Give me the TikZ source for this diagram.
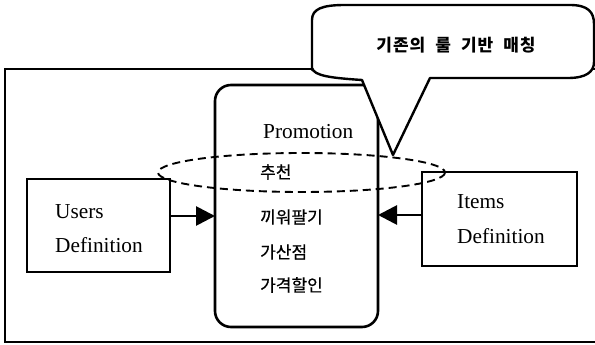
\documentclass[tikz,border=0pt]{standalone}
\usepackage{fontspec}
\setmainfont{Liberation Serif}
\newfontfamily\kr{Noto Sans CJK KR}
\newfontfamily\krb[FakeBold=0.6]{Noto Sans CJK KR}
\usetikzlibrary{arrows.meta}
\tikzset{
  lat/.style={anchor=base west,inner sep=0pt,font=\fontsize{21.3}{24}\selectfont},
  kor/.style={anchor=west,inner sep=0pt,font=\krb\fontsize{17}{19}\selectfont},
  defbox/.style={draw,line width=2.6pt},
  link/.style={line width=2.8pt,-{Triangle[length=19pt,width=19pt]}},
}
\begin{document}
\begin{tikzpicture}[x=1pt,y=-1pt]
\useasboundingbox (0,0) rectangle (595,345);
% outer frame (right side is cut off)
\draw[line width=2.2pt] (598,69) -- (5,69) -- (5,342) -- (598,342);
% promotion box
\draw[line width=2.6pt,rounded corners=16pt] (215,85) rectangle (378,327);
\coordinate (pl) at (215,216);
\coordinate (pr) at (378,215);
% users and items boxes
\draw[defbox] (27,179) rectangle (170,272);
\coordinate (ur) at (170,216);
\draw[defbox] (422,172) rectangle (577,266);
\coordinate (il) at (422,215);
\draw[link] (ur) -- (pl);
\draw[link] (il) -- (pr);
% texts
\node[lat] (prom) at (263,139) {Promotion};
\node[kor] (k1) at (260,172) {추천};
\node[kor] (k2) at (260,217) {끼워팔기};
\node[kor] (k3) at (260,252) {가산점};
\node[kor] (k4) at (260,285) {가격할인};
\node[lat] (u1) at (55,218) {Users};
\node[lat] (u2) at (55,252) {Definition};
\node[lat] (i1) at (457,208) {Items};
\node[lat] (i2) at (457,243) {Definition};
% callout
\draw[line width=2.4pt,fill=white,line join=round]
  (312,70) -- (312,20) .. controls (312,9) and (322,5) .. (345,5)
  -- (570,5) .. controls (588,5) and (594,12) .. (594,24)
  -- (594,62) .. controls (594,72) and (586,78) .. (568,78)
  -- (430,78) -- (393,155) -- (362,80)
  .. controls (332,78) and (314,76) .. (312,68) -- cycle;
\node[inner sep=0pt,font=\kr\bfseries\fontsize{17}{19}\selectfont] (call) at (456,45)
  {기\hspace{1pt}존\hspace{1pt}의\hspace{10pt}룰\hspace{10pt}기\hspace{1pt}반\hspace{10pt}매\hspace{1pt}칭};
% dashed ellipse
\draw[line width=1.9pt,dash pattern=on 8pt off 5pt] (301.5,172.5) ellipse [x radius=143.5, y radius=19.5];
\end{tikzpicture}
\end{document}
